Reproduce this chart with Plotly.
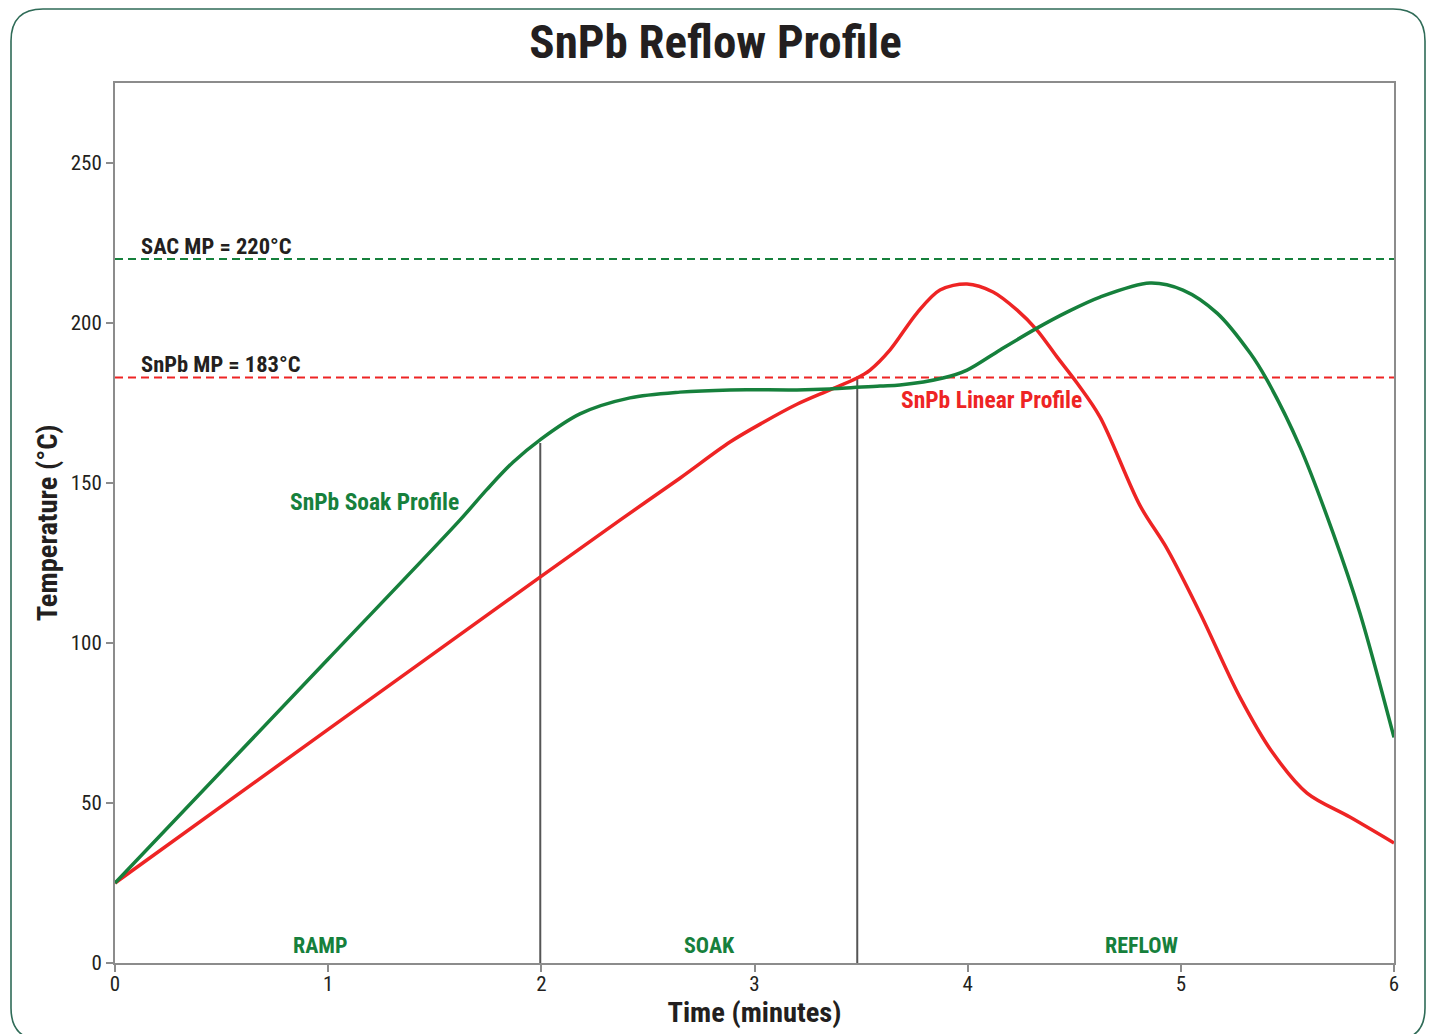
import plotly.graph_objects as go

# ---- data ----
soak_t = [0.0, 1.0, 1.618, 1.745, 1.867, 1.994, 2.181, 2.416, 2.650, 2.885, 3.199, 3.354, 3.589,
          3.682, 3.884, 3.997, 4.152, 4.325, 4.466, 4.621, 4.855, 5.010, 5.170, 5.325, 5.404,
          5.559, 5.714, 5.840, 6.0]
soak_T = [25.0, 95.0, 138.4, 148.0, 156.5, 163.5, 171.6, 176.6, 178.4, 179.1, 179.1, 179.4, 180.3,
          180.6, 182.8, 185.3, 191.6, 198.4, 203.4, 208.1, 212.5, 210.3, 203.1, 190.6, 182.2,
          161.3, 134.4, 109.4, 70.5]

linear_t = [0.0, 1.0, 1.994, 2.369, 2.650, 2.885, 3.040, 3.199, 3.354, 3.481, 3.542, 3.636, 3.762,
            3.870, 3.997, 4.119, 4.231, 4.325, 4.419, 4.513, 4.621, 4.808, 4.935, 5.090, 5.277,
            5.432, 5.592, 5.793, 6.0]
linear_T = [25.0, 73.0, 120.6, 138.4, 151.5, 162.8, 168.9, 174.6, 179.1, 182.8, 185.3, 191.6, 203.1,
            210.3, 212.2, 209.7, 204.1, 197.8, 189.4, 181.25, 170.6, 143.0, 129.5, 109.4, 83.1,
            65.6, 53.1, 45.6, 37.5]

sac_mp = 220
snpb_mp = 183
phase_bounds = [1.995, 3.482]      # minutes
phase_bound_tops = [162.5, 183.0]  # °C
phase_names = ["RAMP", "SOAK", "REFLOW"]
phase_label_t = [0.966, 2.787, 4.818]

x_ticks = [0, 1, 2, 3, 4, 5, 6]
y_ticks = [0, 50, 100, 150, 200, 250]

GREEN = "#16803c"
RED = "#ee2424"
DARK = "#231f20"
AXIS = "#8c8c8c"
FONT = "Liberation Sans Narrow, Roboto Condensed, Arial Narrow, Roboto, sans-serif"

W, H = 1431, 1034
L, R, T, B = 115, 37, 83, 71

fig = go.Figure()

# threshold dashed lines
fig.add_trace(go.Scatter(x=[0, 6], y=[sac_mp, sac_mp], mode="lines",
                         line=dict(color=GREEN, width=2, dash="8px,5px"), hoverinfo="skip"))
fig.add_trace(go.Scatter(x=[0, 6], y=[snpb_mp, snpb_mp], mode="lines",
                         line=dict(color=RED, width=2, dash="8px,5px"), hoverinfo="skip"))

# phase boundaries
for bt, top in zip(phase_bounds, phase_bound_tops):
    fig.add_trace(go.Scatter(x=[bt, bt], y=[0, top], mode="lines",
                             line=dict(color="#555555", width=2), hoverinfo="skip"))

fig.add_trace(go.Scatter(x=linear_t, y=linear_T, mode="lines", name="SnPb Linear Profile",
                         line=dict(color=RED, width=3.5, shape="spline", smoothing=0.9)))
fig.add_trace(go.Scatter(x=soak_t, y=soak_T, mode="lines", name="SnPb Soak Profile",
                         line=dict(color=GREEN, width=3.5, shape="spline", smoothing=0.9)))

ann_font = dict(family=FONT, size=22.5, color=DARK)
fig.add_annotation(x=0.117, y=sac_mp, text="<b>SAC MP = 220°C</b>", showarrow=False,
                   xanchor="left", yanchor="bottom", font=ann_font, borderpad=0, yshift=-1)
fig.add_annotation(x=0.117, y=snpb_mp, text="<b>SnPb MP = 183°C</b>", showarrow=False,
                   xanchor="left", yanchor="bottom", font=ann_font, borderpad=0, yshift=-1)
fig.add_annotation(x=1.215, y=144, text="<b>SnPb Soak Profile</b>", showarrow=False,
                   font=dict(family=FONT, size=23.5, color=GREEN))
fig.add_annotation(x=4.11, y=176, text="<b>SnPb Linear Profile</b>", showarrow=False,
                   font=dict(family=FONT, size=23.5, color=RED))
for name, pt in zip(phase_names, phase_label_t):
    fig.add_annotation(x=pt, y=5.6, text=f"<b>{name}</b>", showarrow=False,
                       font=dict(family=FONT, size=22, color=GREEN))

# rounded border around the whole figure (paper coordinates)
def px(xp):
    return (xp - L) / (W - L - R)

def py(yp):
    return (H - B - yp) / (H - T - B)

x0, x1, y0, y1, r = 11, 1425, 9, 1040, 32
path = (f"M {px(x0 + r)} {py(y0)} L {px(x1 - r)} {py(y0)} "
        f"Q {px(x1)} {py(y0)} {px(x1)} {py(y0 + r)} "
        f"L {px(x1)} {py(y1 - r)} Q {px(x1)} {py(y1)} {px(x1 - r)} {py(y1)} "
        f"L {px(x0 + r)} {py(y1)} Q {px(x0)} {py(y1)} {px(x0)} {py(y1 - r)} "
        f"L {px(x0)} {py(y0 + r)} Q {px(x0)} {py(y0)} {px(x0 + r)} {py(y0)} Z")
fig.add_shape(type="path", path=path, xref="paper", yref="paper",
              line=dict(color="#2f6b57", width=1.6), layer="below")

fig.update_layout(
    width=W, height=H,
    margin=dict(l=L, r=R, t=T, b=B, autoexpand=False),
    paper_bgcolor="white", plot_bgcolor="white",
    showlegend=False,
    font=dict(family=FONT, color=DARK),
    title=dict(text="<b>SnPb Reflow Profile</b>", x=0.5, xanchor="center",
               y=1 - 42 / H, yanchor="middle", yref="container",
               font=dict(family=FONT, size=47, color=DARK)),
)
fig.update_xaxes(range=[0, 6], tickvals=x_ticks, ticks="outside", ticklen=7, tickwidth=2,
                 tickcolor=AXIS, showline=True, linecolor=AXIS, linewidth=2, mirror=True,
                 showgrid=False, zeroline=False, automargin=False, ticklabelstandoff=-6,
                 tickfont=dict(family=FONT, size=21, color=DARK),
                 title=dict(text="<b>Time (minutes)</b>", standoff=6,
                            font=dict(family=FONT, size=28.5, color=DARK)))
fig.update_yaxes(range=[0, 275], tickvals=y_ticks, ticks="outside", ticklen=7, tickwidth=2,
                 tickcolor=AXIS, showline=True, linecolor=AXIS, linewidth=2, mirror=True,
                 showgrid=False, zeroline=False, automargin=False,
                 tickfont=dict(family=FONT, size=21, color=DARK),
                 title=dict(text="<b>Temperature (°C)</b>", standoff=5,
                            font=dict(family=FONT, size=28.5, color=DARK)))

fig.write_html("out.html", config={"displayModeBar": False},
               post_script="document.body.style.margin='0';")
